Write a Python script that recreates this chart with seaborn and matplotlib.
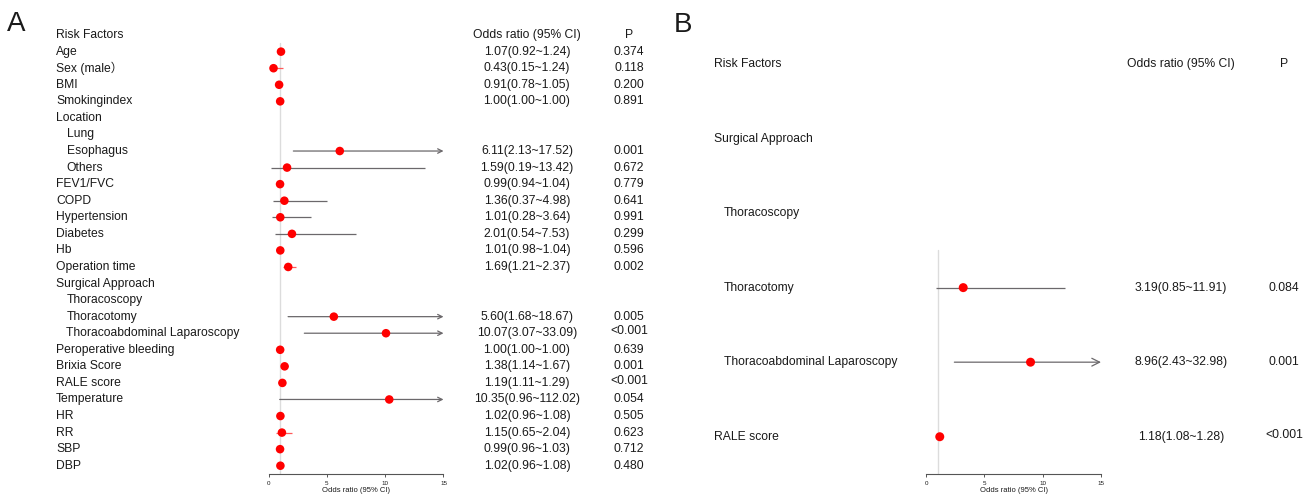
import numpy as np
import pandas as pd
import seaborn as sns
import matplotlib.pyplot as plt
from matplotlib import transforms

nan = np.nan

# panel A: univariate analysis
labels_a = ["Age", "Sex (male）", "BMI", "Smokingindex", "Location", "Lung", "Esophagus",
            "Others", "FEV1/FVC", "COPD", "Hypertension", "Diabetes", "Hb", "Operation time",
            "Surgical Approach", "Thoracoscopy", "Thoracotomy", "Thoracoabdominal Laparoscopy",
            "Peroperative bleeding", "Brixia Score", "RALE score", "Temperature", "HR", "RR",
            "SBP", "DBP"]
indent_a = [False, False, False, False, False, True, True, True, False, False, False, False,
            False, False, False, True, True, True, False, False, False, False, False, False,
            False, False]
or_a = [1.07, 0.43, 0.91, 1.00, nan, nan, 6.11, 1.59, 0.99, 1.36, 1.01, 2.01, 1.01, 1.69,
        nan, nan, 5.60, 10.07, 1.00, 1.38, 1.19, 10.35, 1.02, 1.15, 0.99, 1.02]
lo_a = [0.92, 0.15, 0.78, 1.00, nan, nan, 2.13, 0.19, 0.94, 0.37, 0.28, 0.54, 0.98, 1.21,
        nan, nan, 1.68, 3.07, 1.00, 1.14, 1.11, 0.96, 0.96, 0.65, 0.96, 0.96]
hi_a = [1.24, 1.24, 1.05, 1.00, nan, nan, 17.52, 13.42, 1.04, 4.98, 3.64, 7.53, 1.04, 2.37,
        nan, nan, 18.67, 33.09, 1.00, 1.67, 1.29, 112.02, 1.08, 2.04, 1.03, 1.08]
p_a = ["0.374", "0.118", "0.200", "0.891", "", "", "0.001", "0.672", "0.779", "0.641",
       "0.991", "0.299", "0.596", "0.002", "", "", "0.005", "<0.001", "0.639", "0.001",
       "<0.001", "0.054", "0.505", "0.623", "0.712", "0.480"]

# panel B: multivariate analysis
labels_b = ["Surgical Approach", "Thoracoscopy", "Thoracotomy",
            "Thoracoabdominal Laparoscopy", "RALE score"]
indent_b = [False, True, True, True, False]
or_b = [nan, nan, 3.19, 8.96, 1.18]
lo_b = [nan, nan, 0.85, 2.43, 1.08]
hi_b = [nan, nan, 11.91, 32.98, 1.28]
p_b = ["", "", "0.084", "0.001", "<0.001"]

x_ticks = [0, 5, 10, 15]
x_max = 15

sns.set_theme(style="white")
plt.rcParams['font.family'] = ['Liberation Sans', 'Noto Sans CJK SC', 'DejaVu Sans']

W, H = 1308, 500
fig = plt.figure(figsize=(W / 100, H / 100), dpi=100)
fig.patch.set_facecolor('white')

TXT = '#1a1a1a'
FS = 8.7


def panel(ax, labels, indent, ors, los, his, ps, cols, ref_from, head, dot, red_short):
    n = len(labels)
    rows = np.arange(1, n + 1)
    trans = transforms.blended_transform_factory(fig.transFigure, ax.transData)
    raised = transforms.offset_copy(trans, fig=fig, y=2, units='dots')

    ax.set_xlim(0, x_max)
    ax.set_ylim(n + 0.5, -0.5)
    ax.axvline(1, ymin=0, ymax=(n + 0.5 - ref_from) / (n + 1), color='#dcdcdc', lw=1, zorder=1)

    # header row
    ax.text(cols[0] / W, 0, "Risk Factors", transform=trans, ha='left', va='center',
            fontsize=FS, color=TXT)
    ax.text(cols[2] / W, 0, "Odds ratio (95% CI)", transform=trans, ha='center', va='center',
            fontsize=FS, color=TXT)
    ax.text(cols[3] / W, 0, "P", transform=trans, ha='center', va='center',
            fontsize=FS, color=TXT)

    for y, lab, ind, o, lo, hi, p in zip(rows, labels, indent, ors, los, his, ps):
        ax.text((cols[1] if ind else cols[0]) / W, y, lab, transform=trans, ha='left',
                va='center', fontsize=FS, color=TXT)
        if np.isnan(o):
            continue
        ax.text(cols[2] / W, y, f"{o:.2f}({lo:.2f}~{hi:.2f})", transform=trans,
                ha='center', va='center', fontsize=FS, color=TXT)
        ax.text(cols[3] / W, y, p, transform=raised if p.startswith('<') else trans,
                ha='center', va='center', fontsize=FS, color=TXT)
        lc = '#ff5a5a' if (red_short and hi - lo < 1.5) else '#6b686b'
        if hi > x_max:
            ax.annotate('', xy=(x_max, y), xytext=(lo, y),
                        arrowprops=dict(arrowstyle='->', color=lc, lw=0.9, shrinkA=0,
                                        shrinkB=0, mutation_scale=head), zorder=2)
        else:
            ax.hlines(y, lo, hi, color=lc, lw=0.9, zorder=2)

    df = pd.DataFrame({'OR': ors, 'row': rows}).dropna()
    sns.scatterplot(data=df, x='OR', y='row', color='red', s=dot, edgecolor='none',
                    zorder=3, ax=ax, legend=False)

    for side in ['top', 'right', 'left']:
        ax.spines[side].set_visible(False)
    ax.spines['bottom'].set_color('#555555')
    ax.spines['bottom'].set_linewidth(0.8)
    ax.set_xticks(x_ticks)
    ax.set_xticklabels([str(t) for t in x_ticks])
    ax.tick_params(axis='x', direction='out', length=2.5, width=0.7, color='#555555',
                   pad=2.5, labelsize=4.5, labelcolor=TXT, bottom=True)
    ax.set_yticks([])
    ax.set_ylabel('')
    ax.set_xlabel("Odds ratio (95% CI)", fontsize=5.5, color=TXT, labelpad=1)
    ax.set_facecolor('none')


ax_a = fig.add_axes([268.5 / W, 1 - 474 / H, 175 / W, (474 - 26.8) / H])
panel(ax_a, labels_a, indent_a, or_a, lo_a, hi_a, p_a, (56, 66.5, 527, 629),
      0.5, 8, 38, True)

ax_b = fig.add_axes([926 / W, 1 - 474 / H, 175 / W, (474 - 26.7) / H])
panel(ax_b, labels_b, indent_b, or_b, lo_b, hi_b, p_b, (714, 724, 1181, 1284),
      2.5, 14, 42, False)

fig.text(7 / W, 1 - 31 / H, "A", fontsize=20, color=TXT, ha='left', va='baseline')
fig.text(674 / W, 1 - 32 / H, "B", fontsize=20, color=TXT, ha='left', va='baseline')

fig.savefig("out.png", dpi=100, facecolor='white')
